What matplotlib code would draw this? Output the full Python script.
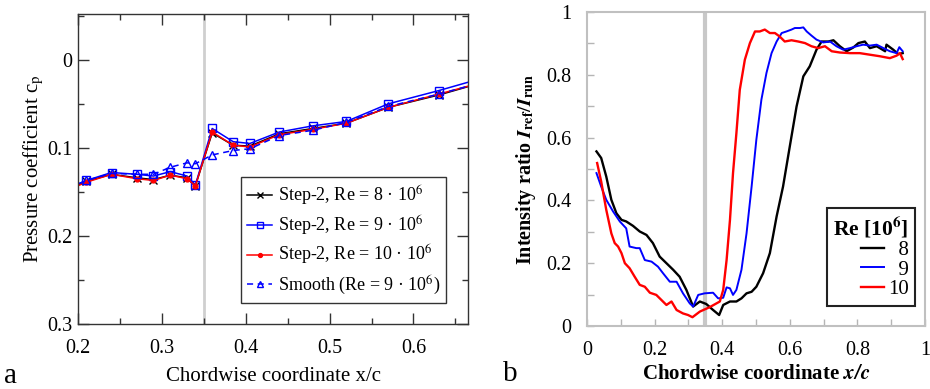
import matplotlib
matplotlib.use("Agg")
import matplotlib.pyplot as plt
from matplotlib.ticker import MultipleLocator, FixedLocator

plt.rcParams["font.family"] = ["Liberation Serif", "DejaVu Serif"]
plt.rcParams["mathtext.fontset"] = "stix"
plt.rcParams["font.size"] = 14

# ---- panel a: pressure coefficient ----
xc = [0.19, 0.21, 0.24, 0.27, 0.29, 0.31, 0.33, 0.34, 0.36, 0.385, 0.405,
      0.44, 0.48, 0.52, 0.57, 0.63, 0.70]
cp_re8 = [0.146, 0.138, 0.130, 0.134, 0.136, 0.131, 0.134, 0.143, 0.083, 0.097,
          0.098, 0.084, 0.078, 0.072, 0.054, 0.040, 0.021]
cp_re9 = [0.145, 0.137, 0.128, 0.130, 0.132, 0.127, 0.132, 0.142, 0.078, 0.093,
          0.095, 0.082, 0.075, 0.070, 0.050, 0.035, 0.016]
cp_re10 = [0.147, 0.139, 0.130, 0.135, 0.137, 0.131, 0.135, 0.143, 0.082, 0.097,
           0.099, 0.085, 0.079, 0.072, 0.054, 0.039, 0.021]
cp_smooth = [0.145, 0.137, 0.129, 0.130, 0.130, 0.122, 0.117, 0.118, 0.108, 0.103,
             0.101, 0.086, 0.080, 0.071, 0.053, 0.039, 0.021]

# ---- panel b: intensity ratio ----
x8 = [0.028, 0.042, 0.057, 0.072, 0.087, 0.102, 0.116, 0.136, 0.156, 0.176,
      0.195, 0.215, 0.235, 0.255, 0.274, 0.294, 0.314, 0.334, 0.353, 0.373,
      0.391, 0.403, 0.423, 0.442, 0.457, 0.472, 0.487, 0.501, 0.521, 0.541,
      0.561, 0.580, 0.600, 0.620, 0.640, 0.659, 0.679, 0.694, 0.714, 0.729,
      0.748, 0.768, 0.788, 0.803, 0.822, 0.837, 0.857, 0.882, 0.886, 0.906,
      0.921, 0.934]
r8 = [0.556, 0.535, 0.476, 0.402, 0.359, 0.338, 0.333, 0.319, 0.301, 0.290,
      0.264, 0.221, 0.200, 0.179, 0.157, 0.115, 0.062, 0.078, 0.070, 0.051,
      0.035, 0.067, 0.078, 0.078, 0.088, 0.104, 0.109, 0.125, 0.168, 0.232,
      0.349, 0.444, 0.572, 0.699, 0.795, 0.827, 0.880, 0.906, 0.906, 0.910,
      0.891, 0.875, 0.887, 0.901, 0.906, 0.885, 0.891, 0.875, 0.896, 0.880,
      0.866, 0.869]

x9 = [0.028, 0.042, 0.057, 0.077, 0.097, 0.116, 0.126, 0.146, 0.156, 0.171,
      0.191, 0.210, 0.225, 0.245, 0.265, 0.284, 0.304, 0.314, 0.329, 0.348,
      0.373, 0.388, 0.403, 0.413, 0.423, 0.432, 0.442, 0.457, 0.472, 0.487,
      0.501, 0.516, 0.531, 0.546, 0.561, 0.576, 0.590, 0.605, 0.615, 0.630,
      0.640, 0.650, 0.664, 0.679, 0.699, 0.719, 0.738, 0.758, 0.778, 0.798,
      0.817, 0.837, 0.857, 0.877, 0.896, 0.916, 0.924, 0.934]
r9 = [0.487, 0.444, 0.402, 0.365, 0.333, 0.311, 0.253, 0.248, 0.248, 0.210,
      0.205, 0.189, 0.168, 0.141, 0.141, 0.104, 0.072, 0.062, 0.099, 0.104,
      0.106, 0.088, 0.090, 0.123, 0.120, 0.099, 0.115, 0.179, 0.295, 0.444,
      0.593, 0.721, 0.806, 0.869, 0.906, 0.933, 0.938, 0.944, 0.949, 0.949,
      0.951, 0.938, 0.925, 0.912, 0.903, 0.906, 0.891, 0.880, 0.885, 0.891,
      0.896, 0.893, 0.896, 0.885, 0.875, 0.869, 0.888, 0.875]

x10 = [0.030, 0.042, 0.057, 0.072, 0.082, 0.092, 0.102, 0.112, 0.126, 0.141,
       0.156, 0.171, 0.186, 0.205, 0.220, 0.235, 0.250, 0.265, 0.284, 0.299,
       0.312, 0.334, 0.363, 0.393, 0.403, 0.413, 0.423, 0.432, 0.442, 0.452,
       0.467, 0.482, 0.497, 0.511, 0.526, 0.541, 0.556, 0.570, 0.585, 0.605,
       0.625, 0.645, 0.664, 0.684, 0.704, 0.724, 0.748, 0.778, 0.807, 0.837,
       0.867, 0.896, 0.916, 0.926, 0.934]
r10 = [0.519, 0.460, 0.370, 0.295, 0.264, 0.253, 0.232, 0.200, 0.184, 0.157,
       0.131, 0.125, 0.106, 0.099, 0.083, 0.067, 0.078, 0.051, 0.040, 0.035,
       0.028, 0.046, 0.060, 0.078, 0.115, 0.210, 0.338, 0.487, 0.614, 0.752,
       0.848, 0.901, 0.938, 0.938, 0.944, 0.933, 0.933, 0.922, 0.906, 0.910,
       0.906, 0.901, 0.891, 0.885, 0.891, 0.875, 0.871, 0.869, 0.869, 0.864,
       0.859, 0.853, 0.861, 0.869, 0.850]

fig = plt.figure(figsize=(9.3, 3.89), dpi=100)

# ---------------- panel a ----------------
ax1 = fig.add_axes([78 / 930, 1 - 324 / 389, 390 / 930, 310 / 389])
ax1.axvline(0.35, color="#cfcfcf", lw=2, zorder=0)
ax1.plot(xc, cp_re8, color="black", lw=1.1, marker="x", ms=6, mew=1,
         label="Step-2, Re = 8 · 10$^6$")
ax1.plot(xc, cp_re9, color="blue", lw=1.1, marker="s", ms=5.5, mew=1,
         mfc="none", label="Step-2, Re = 9 · 10$^6$")
ax1.plot(xc, cp_re10, color="red", lw=1.1, marker="o", ms=3.5,
         label="Step-2, Re = 10 · 10$^6$")
ax1.plot(xc, cp_smooth, color="blue", lw=1.1, ls=(0, (4, 3)), marker="^",
         ms=6, mew=1, mfc="none", label="Smooth (Re = 9 · 10$^6$)")
ax1.set_xlim(0.2, 0.665)
ax1.set_ylim(0.3, -0.052)
ax1.xaxis.set_major_locator(FixedLocator([0.2, 0.3, 0.4, 0.5, 0.6]))
ax1.xaxis.set_minor_locator(MultipleLocator(0.05))
ax1.set_yticks([0, 0.1, 0.2, 0.3])
ax1.set_yticklabels(["0", "0.1", "0.2", "0.3"])
ax1.yaxis.set_minor_locator(MultipleLocator(0.05))
ax1.tick_params(which="both", direction="in", top=True, right=True,
                color="#333333", width=1, labelsize=14.5)
ax1.tick_params(which="major", length=8)
ax1.tick_params(axis="x", which="major", pad=11)
ax1.tick_params(axis="y", which="major", pad=4)
ax1.tick_params(which="minor", length=4)
for s in ax1.spines.values():
    s.set_color("#333333")
    s.set_linewidth(1)
ax1.set_xlabel("Chordwise coordinate x/c", fontsize=15, labelpad=6)
ax1.set_ylabel(r"Pressure coefficient c$_\mathrm{p}$", fontsize=15, labelpad=1)
leg1 = ax1.legend(loc="lower right", bbox_to_anchor=(0.944, 0.068),
                  fontsize=13, handlelength=1.4, handletextpad=0.3,
                  labelspacing=0.33, borderpad=0.35, fancybox=False,
                  framealpha=1, edgecolor="#333333", borderaxespad=0,
                  markerscale=0.8)
leg1.get_frame().set_linewidth(1)

# ---------------- panel b ----------------
ax2 = fig.add_axes([587 / 930, 1 - 326 / 389, 338 / 930, 314 / 389])
ax2.axvline(0.35, color="#c8c8c8", lw=3, zorder=0)
ax2.plot(x8, r8, color="black", lw=1.7, label="\u20078")
ax2.plot(x9, r9, color="blue", lw=1.4, label="\u20079")
ax2.plot(x10, r10, color="red", lw=1.7, label="10")
ax2.set_xlim(0, 1)
ax2.set_ylim(0, 1)
ax2.set_xticks([0, 0.2, 0.4, 0.6, 0.8, 1])
ax2.set_xticklabels(["0", "0.2", "0.4", "0.6", "0.8", "1"])
ax2.set_yticks([0, 0.2, 0.4, 0.6, 0.8, 1])
ax2.set_yticklabels(["0", "0.2", "0.4", "0.6", "0.8", "1"])
ax2.xaxis.set_minor_locator(MultipleLocator(0.1))
ax2.yaxis.set_minor_locator(MultipleLocator(0.1))
ax2.tick_params(which="both", direction="in", length=5, color="#b5b5b5",
                width=1, labelsize=14.5)
ax2.tick_params(axis="x", which="major", pad=11)
ax2.tick_params(axis="y", which="major", pad=11)
for s in ax2.spines.values():
    s.set_color("#c0c0c0")
    s.set_linewidth(1.5)
ax2.set_xlabel(r"Chordwise coordinate $\mathbfit{x/c}$", fontsize=15,
               fontweight="bold", labelpad=3)
ax2.set_ylabel(r"Intensity ratio $\mathbfit{I}_{\mathbf{ref}}/\mathbfit{I}_{\mathbf{run}}$",
               fontsize=14.5, fontweight="bold", labelpad=6)
leg2 = ax2.legend(loc="lower right", bbox_to_anchor=(0.97, 0.065),
                  title=r"Re [10$^\mathbf{6}$]", fontsize=15, title_fontsize=15.5,
                  handlelength=1.1, handletextpad=0.2, labelspacing=0.0,
                  borderpad=0.3, fancybox=False, framealpha=1,
                  edgecolor="#222222", borderaxespad=0, alignment="right")
leg2.get_title().set_fontweight("bold")
leg2.get_frame().set_linewidth(1.5)

fig.text(4 / 930, 1 - 376 / 389, "a", fontsize=21, va="center", ha="left")
fig.text(503 / 930, 1 - 374 / 389, "b", fontsize=21, va="center", ha="left")

fig.savefig("out.png", dpi=100)
